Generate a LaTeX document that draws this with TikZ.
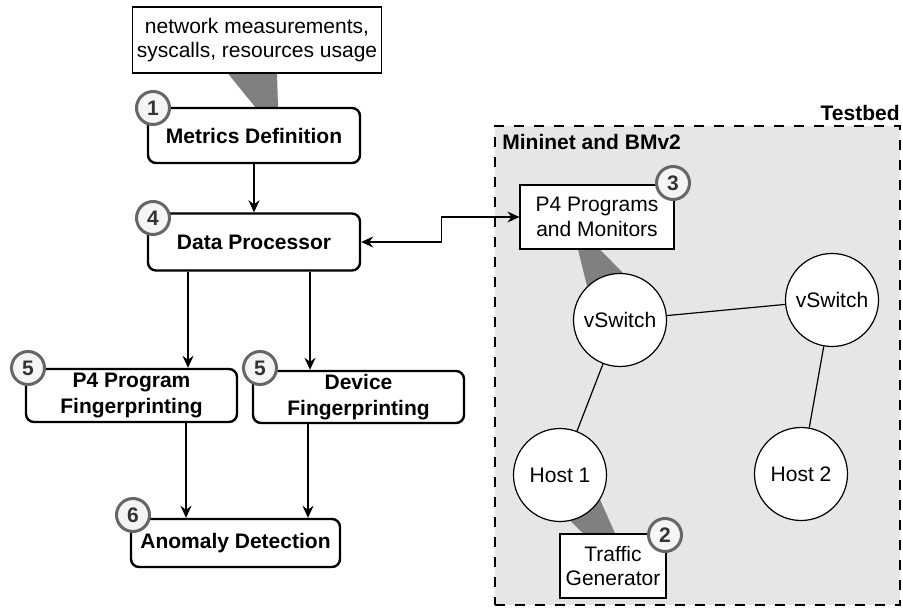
\documentclass[tikz,border=0pt]{standalone}
\usepackage{fontspec}
\setmainfont{Liberation Sans}
\usetikzlibrary{positioning,arrows.meta}
\pgfdeclarelayer{back}
\pgfdeclarelayer{mid}
\pgfsetlayers{back,mid,main}
\definecolor{wedgegray}{HTML}{808080}
\definecolor{bedfill}{HTML}{E6E6E6}
\definecolor{badgeline}{HTML}{666666}
\definecolor{badgefill}{HTML}{F5F5F5}
\definecolor{badgetext}{HTML}{333333}

\begin{document}
\begin{tikzpicture}[
  x=0.5pt,y=-0.5pt,
  font=\fontsize{10.5}{12}\selectfont,
  proc/.style={rectangle,rounded corners=4pt,draw=black,line width=1.2pt,fill=white,
               minimum width=106pt,minimum height=27.5pt,align=center,inner sep=1pt,
               font=\fontsize{10.5}{13}\selectfont\bfseries},
  note/.style={rectangle,draw=black,line width=0.6pt,fill=white,align=center,inner sep=2pt,
               font=\fontsize{10.5}{12.2}\selectfont},
  dev/.style={circle,draw=black,line width=0.6pt,fill=white,minimum size=46.5pt,inner sep=0pt},
  badge/.style={circle,draw=badgeline,line width=1.5pt,fill=badgefill,text=badgetext,
                minimum size=16.5pt,inner sep=0pt,font=\fontsize{10.5}{12}\selectfont\bfseries},
  testbed/.style={rectangle,draw=black,line width=0.9pt,dash pattern=on 5pt off 5pt,
                  fill=bedfill,minimum width=202.5pt,minimum height=239.5pt},
  lbl/.style={inner sep=0pt,font=\fontsize{10.5}{12}\selectfont\bfseries},
  tip/.tip={Stealth[length=6pt,width=5.5pt,inset=2pt]},
  arr/.style={-tip,line width=0.7pt},
  link/.style={line width=0.6pt},
  wedge/.style={fill=wedgegray},
]
\useasboundingbox (0,0) rectangle (903,608);

% testbed container
\begin{pgfonlayer}{back}
  \node[testbed] (testbed) at (697.5,365.5) {};
\end{pgfonlayer}
\node[lbl,anchor=east] (testbedlbl) at (900,113) {Testbed};
\node[lbl,anchor=west] (mininet) at (502,142) {Mininet and BMv2};

% pipeline
\node[note,minimum width=124pt,minimum height=33pt] (metricsrc) at (257,40)
   {network measurements,\\syscalls, resources usage};
\node[proc] (metrics) at (254,135.5) {Metrics Definition};
\node[proc,minimum height=28.5pt] (dproc) at (254,242) {Data Processor};
\node[proc,minimum width=105.5pt,minimum height=26.5pt] (p4fp) at (131.5,395.5)
   {P4 Program\\Fingerprinting};
\node[proc,minimum width=105.5pt,minimum height=26pt] (devfp) at (358.5,397)
   {Device\\Fingerprinting};
\node[proc,minimum width=104.5pt,minimum height=24pt] (anomaly) at (235.5,543)
   {Anomaly Detection};

% emulated network
\node[note,minimum width=77pt,minimum height=32pt] (p4mon) at (597,217)
   {P4 Programs\\and Monitors};
\node[dev] (vsw1) at (620,320) {vSwitch};
\node[dev] (vsw2) at (832,300) {vSwitch};
\node[dev] (host1) at (560,475) {Host 1};
\node[dev] (host2) at (801,474) {Host 2};
\node[note,minimum width=53pt,minimum height=32pt] (traffic) at (613,566)
   {Traffic\\Generator};

% step badges
\node[badge] (b1) at (153,108) {1};
\node[badge] (b4) at (153,218) {4};
\node[badge] (b5a) at (28,368) {5};
\node[badge] (b5b) at (260,368) {5};
\node[badge] (b6) at (133,515) {6};
\node[badge] (b3) at (673,183) {3};
\node[badge] (b2) at (665,535) {2};

% callout pointers
\begin{pgfonlayer}{mid}
  \fill[wedge] ([shift={(-29,0)}]metricsrc.south) -- ([shift={(20,0)}]metricsrc.south)
     -- ([shift={(24,0)}]metrics.north) -- ([shift={(1,0)}]metrics.north) -- cycle;
  \fill[wedge] ([shift={(-19,0)}]p4mon.south) -- ([shift={(3,0)}]p4mon.south)
     -- ([shift={(10,-40)}]vsw1.center) -- ([shift={(-32,-30)}]vsw1.center) -- cycle;
  \fill[wedge] ([shift={(-10,25)}]host1.center) -- ([shift={(38,20)}]host1.center)
     -- ([shift={(2,0)}]traffic.north) -- ([shift={(-30,0)}]traffic.north) -- cycle;
\end{pgfonlayer}

\draw[arr] (metrics) -- (dproc);
\draw[arr] ([xshift=-33pt]dproc.south) -- ([xshift=-33pt]dproc.south |- p4fp.north);
\draw[arr] ([xshift=28pt]dproc.south) -- ([xshift=28pt]dproc.south |- devfp.north);
\draw[arr] ([xshift=27.25pt]p4fp.south) -- ([xshift=27.25pt]p4fp.south |- anomaly.north);
\draw[arr] ([xshift=-25.25pt]devfp.south) -- ([xshift=-25.25pt]devfp.south |- anomaly.north);
\draw[arr,tip-tip] (dproc.east) -- ++(40pt,0) |- (p4mon.west);

\draw[link] (vsw1) -- (vsw2);
\draw[link] (vsw1) -- (host1);
\draw[link] (vsw2) -- (host2);
\end{tikzpicture}
\end{document}
